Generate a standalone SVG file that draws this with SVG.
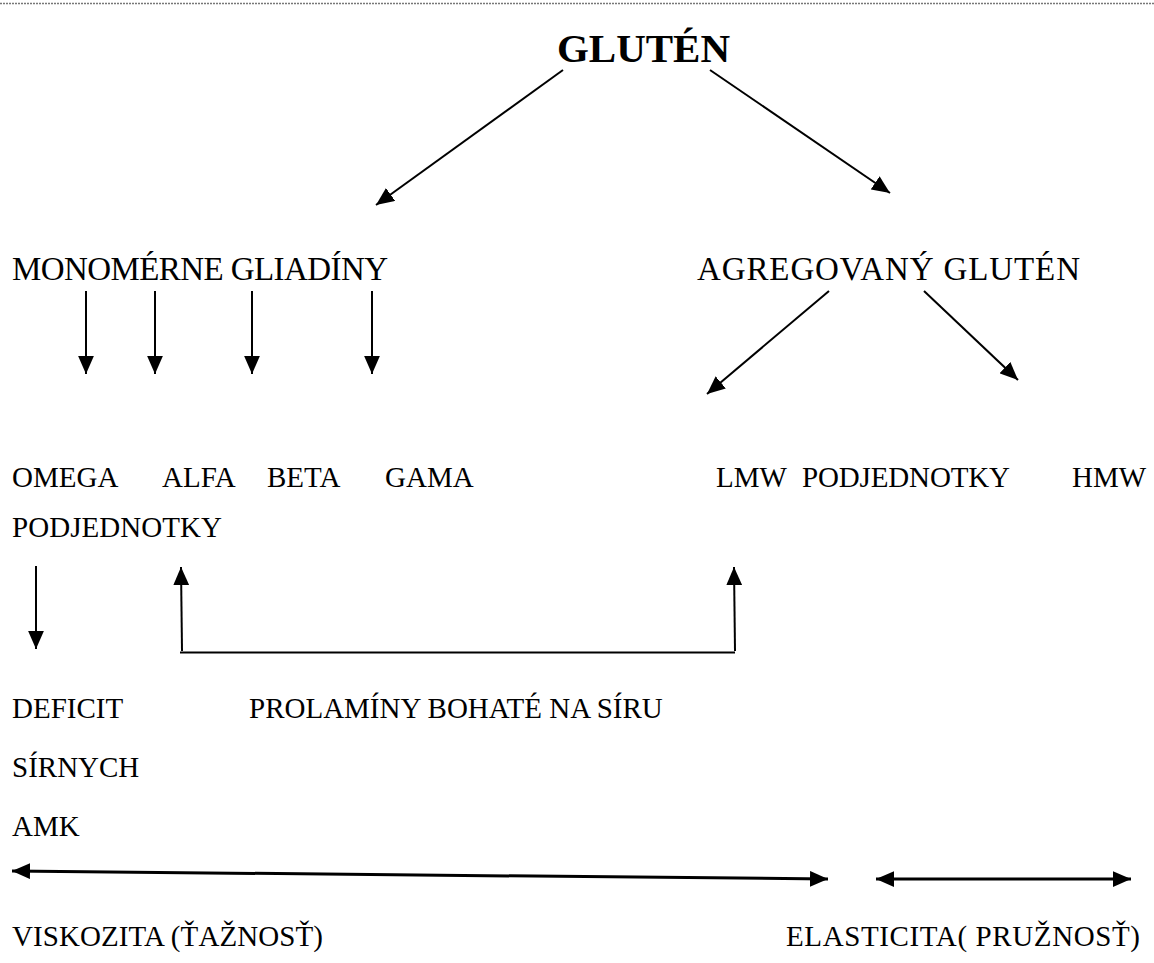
<svg xmlns="http://www.w3.org/2000/svg" width="1154" height="963" viewBox="0 0 1154 963">
<defs>
<style>
text{font-family:"Liberation Serif","Times New Roman",serif;fill:#000}
.h{font-size:33px}
.t{font-size:29px}
.b{font-size:41px;font-weight:bold}
.c{stroke:#000;stroke-width:2;fill:none}
.c3{stroke:#000;stroke-width:3;fill:none}
</style>
<marker id="ah" markerUnits="userSpaceOnUse" markerWidth="18" markerHeight="16" refX="16" refY="7" orient="auto-start-reverse" viewBox="0 0 16 14">
<path d="M0,0 L16,7 L0,14 Z" fill="#000"/>
</marker>
</defs>
<rect width="1154" height="963" fill="#fff"/>
<line x1="0" y1="3.5" x2="1154" y2="3.5" stroke="#777" stroke-width="1.5" stroke-dasharray="2,1"/>
<g id="gluten"><text class="b" x="557" y="62" textLength="173">GLUTÉN</text></g>
<g id="monomerne"><text class="h" x="12" y="280" textLength="376">MONOMÉRNE GLIADÍNY</text></g>
<g id="agregovany"><text class="h" x="697" y="280" textLength="383">AGREGOVANÝ GLUTÉN</text></g>
<g id="omega"><text class="t" x="12" y="487">OMEGA</text></g>
<g id="alfa"><text class="t" x="162" y="487">ALFA</text></g>
<g id="beta"><text class="t" x="267" y="487">BETA</text></g>
<g id="gama"><text class="t" x="385" y="487">GAMA</text></g>
<g id="lmw"><text class="t" x="716" y="487">LMW</text><text class="t" x="802" y="487" textLength="208">PODJEDNOTKY</text></g>
<g id="hmw"><text class="t" x="1072" y="487">HMW</text></g>
<g id="podjednotky"><text class="t" x="12" y="537" textLength="210">PODJEDNOTKY</text></g>
<g id="deficit"><text class="t" x="12" y="718">DEFICIT</text><text class="t" x="12" y="777">SÍRNYCH</text><text class="t" x="12" y="836">AMK</text></g>
<g id="prolaminy"><text class="t" x="249" y="718">PROLAMÍNY BOHATÉ NA SÍRU</text></g>
<g id="viskozita"><text class="t" x="12" y="946" textLength="311">VISKOZITA (ŤAŽNOSŤ)</text></g>
<g id="elasticita"><text class="t" x="786" y="946" textLength="354">ELASTICITA( PRUŽNOSŤ)</text></g>
<g id="connectors">
<line class="c" x1="563" y1="70" x2="376" y2="205" marker-end="url(#ah)"/>
<line class="c" x1="710" y1="70" x2="890" y2="193" marker-end="url(#ah)"/>
<line class="c" x1="86" y1="291" x2="86" y2="374" marker-end="url(#ah)"/>
<line class="c" x1="155" y1="291" x2="155" y2="374" marker-end="url(#ah)"/>
<line class="c" x1="252" y1="291" x2="252" y2="374" marker-end="url(#ah)"/>
<line class="c" x1="372" y1="291" x2="372" y2="374" marker-end="url(#ah)"/>
<line class="c" x1="829" y1="291" x2="707" y2="394" marker-end="url(#ah)"/>
<line class="c" x1="924" y1="291" x2="1018" y2="380" marker-end="url(#ah)"/>
<line class="c" x1="36" y1="566" x2="36" y2="649" marker-end="url(#ah)"/>
<line class="c" x1="182" y1="651" x2="181" y2="567" marker-end="url(#ah)"/>
<line class="c" x1="180" y1="652.5" x2="735" y2="652.5"/>
<line class="c" x1="735" y1="651" x2="734" y2="567" marker-end="url(#ah)"/>
<line class="c3" x1="12" y1="871" x2="828" y2="879" marker-start="url(#ah)" marker-end="url(#ah)"/>
<line class="c3" x1="876" y1="879" x2="1131" y2="879" marker-start="url(#ah)" marker-end="url(#ah)"/>
</g>
</svg>
